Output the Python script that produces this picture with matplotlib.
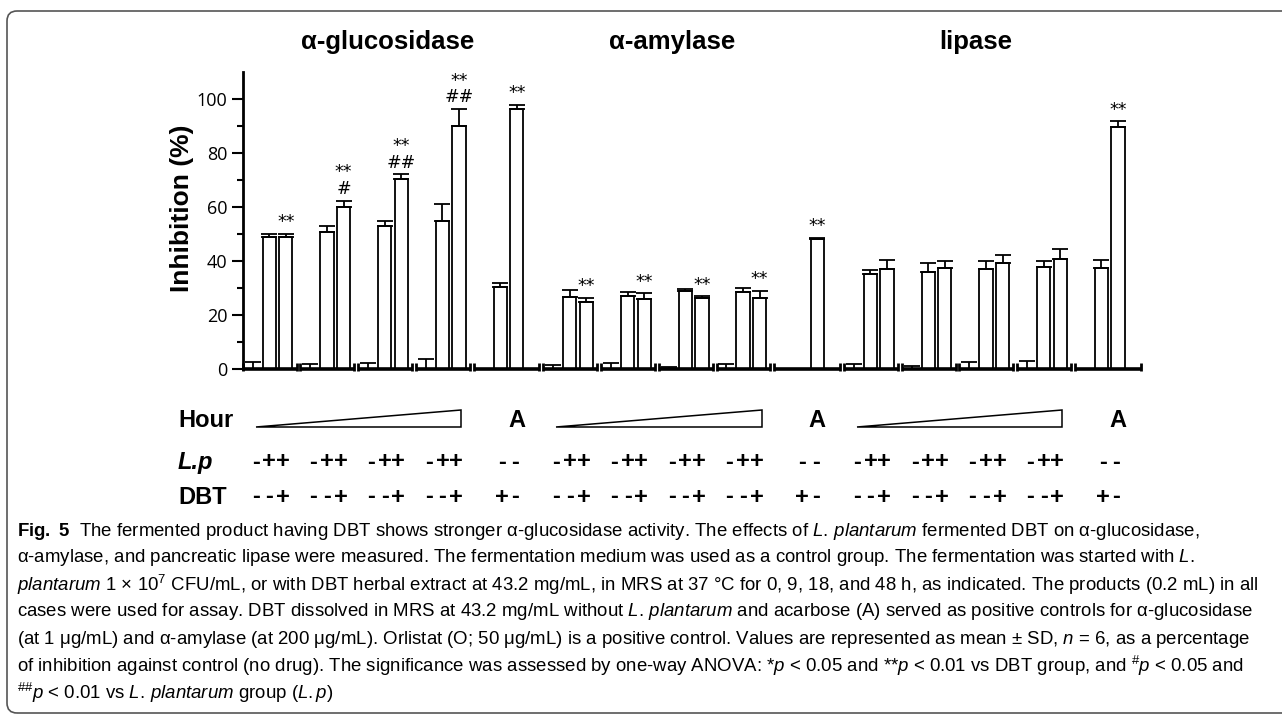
import numpy as np
import matplotlib.pyplot as plt
from matplotlib.patches import Polygon, FancyBboxPatch
from matplotlib.transforms import blended_transform_factory, IdentityTransform

# bar order inside each panel: 0h, 9h, 18h, 48h (medium, L.p, L.p+DBT) then DBT, A/O
panels = ['α-glucosidase', 'α-amylase', 'lipase']

gluco_mean = [0, 48.8, 49.0, 0, 50.9, 60.1, 0, 53.0, 70.2, 0, 54.8, 90.0, 30.3, 96.2]
gluco_err = [2.8, 1.2, 1.1, 1.8, 2.2, 2.2, 2.4, 1.8, 1.9, 3.7, 6.3, 6.2, 1.5, 1.5]
gluco_sig = ['', '', '**', '', '', '**\n#', '', '', '**\n##', '', '', '**\n##', '', '**']

amyl_mean = [0, 26.6, 25.0, 0, 27.1, 26.0, 0, 28.8, 26.2, 0, 28.7, 26.2, 0, 48.0]
amyl_err = [1.5, 2.7, 1.5, 2.3, 1.4, 2.1, 0.7, 0.7, 0.8, 2.1, 1.5, 2.9, 0.2, 0.7]
amyl_sig = ['', '', '**', '', '', '**', '', '', '**', '', '', '**', '', '**']

lip_mean = [0, 35.1, 37.2, 0, 35.8, 37.6, 0, 37.1, 39.2, 0, 37.9, 40.8, 37.4, 89.7]
lip_err = [2.1, 1.5, 3.2, 1.1, 3.6, 2.5, 2.6, 2.9, 3.0, 3.0, 2.1, 3.8, 3.0, 1.9]
lip_sig = ['', '', '', '', '', '', '', '', '', '', '', '', '', '**']

lp_signs = ['-++', '-++', '-++', '-++', '--']
dbt_signs = ['--+', '--+', '--+', '--+', '+-']

means = [gluco_mean, amyl_mean, lip_mean]
errs = [gluco_err, amyl_err, lip_err]
sigs = [gluco_sig, amyl_sig, lip_sig]

caption = [
    r'$\mathbf{Fig.}$ $\mathbf{5}$  The fermented product having DBT shows stronger α-glucosidase activity. The effects of $\mathit{L.\,plantarum}$ fermented DBT on α-glucosidase,',
    r'α-amylase, and pancreatic lipase were measured. The fermentation medium was used as a control group. The fermentation was started with $\mathit{L.}$',
    r'$\mathit{plantarum}$ 1 × 10$^{7}$ CFU/mL, or with DBT herbal extract at 43.2 mg/mL, in MRS at 37 °C for 0, 9, 18, and 48 h, as indicated. The products (0.2 mL) in all',
    r'cases were used for assay. DBT dissolved in MRS at 43.2 mg/mL without $\mathit{L.\,plantarum}$ and acarbose (A) served as positive controls for α-glucosidase',
    r'(at 1 μg/mL) and α-amylase (at 200 μg/mL). Orlistat (O; 50 μg/mL) is a positive control. Values are represented as mean ± SD, $\mathit{n}$ = 6, as a percentage',
    r'of inhibition against control (no drug). The significance was assessed by one-way ANOVA: *$\mathit{p}$ < 0.05 and **$\mathit{p}$ < 0.01 vs DBT group, and $^{\#}\mathit{p}$ < 0.05 and',
    r'$^{\#\#}\mathit{p}$ < 0.01 vs $\mathit{L.\,plantarum}$ group ($\mathit{L.p}$)',
]

plt.rcParams['mathtext.fontset'] = 'custom'
plt.rcParams['mathtext.rm'] = 'Liberation Sans'
plt.rcParams['mathtext.it'] = 'Liberation Sans:italic'
plt.rcParams['mathtext.bf'] = 'Liberation Sans:bold'

W, H = 1282, 715
fig = plt.figure(figsize=(W / 100, H / 100), dpi=100)
ax = fig.add_axes([242.7 / W, 1 - 369.3 / H, 898 / W, 297.6 / H])

# layout of the broken x axis (units of one bar pitch)
SEG_W, A_W, GAP = 3.25, 3.97, 0.23
x = 0
bar_x, seg_spans, panel_start = [], [], []
for p in range(3):
    panel_start.append(x)
    xs = []
    for g in range(4):
        xs += [x + o for o in (0.6, 1.6, 2.6)]
        seg_spans.append((x, x + SEG_W))
        x += SEG_W + GAP
    xs += [x + o for o in (1.6, 2.6)]
    seg_spans.append((x, x + A_W))
    x += A_W + GAP
    bar_x.append(xs)
xmax = x - GAP

for p in range(3):
    m = np.array(means[p])
    e = np.array(errs[p])
    ax.bar(bar_x[p], m, width=0.8, color='white', edgecolor='black', linewidth=1.3,
           yerr=[np.zeros_like(e), e], capsize=6,
           error_kw=dict(elinewidth=1.3, capthick=1.3, ecolor='black'), zorder=3)
    for xi, mi, ei, s in zip(bar_x[p], m, e, sigs[p]):
        if s:
            ax.text(xi, mi + ei + 1.0, s, ha='center', va='bottom', fontsize=12.5,
                    family='DejaVu Sans', linespacing=0.9)

for s, e in seg_spans:
    ax.hlines(0, s, e, color='black', lw=2.6, clip_on=False, zorder=4)
    ax.vlines([s, e], -0.8, 2.4, color='black', lw=2, clip_on=False, zorder=4)

ax.set_xlim(0, xmax)
ax.set_ylim(0, 110)
ax.set_xticks([])
for side in ('top', 'right', 'bottom'):
    ax.spines[side].set_visible(False)
ax.spines['left'].set_linewidth(2)
ax.set_yticks(range(0, 101, 20))
ax.set_yticks(range(10, 100, 20), minor=True)
ax.tick_params(axis='y', which='major', direction='out', length=8, width=1.5, labelsize=13, pad=3)
ax.tick_params(axis='y', which='minor', direction='out', length=4.5, width=1.5)
for lab in ax.get_yticklabels():
    lab.set_family('Open Sans')

fig.text(182 / W, 1 - 208 / H, 'Inhibition (%)', rotation=90, ha='center', va='center',
         fontsize=19, fontweight='bold', family='Liberation Sans')

trans = blended_transform_factory(ax.transData, fig.transFigure)
title_off = [8.75, 7.74, 7.93]
for p in range(3):
    ax.text(panel_start[p] + title_off[p], 1 - 42 / H, panels[p], transform=trans,
            ha='center', va='center', fontsize=18.5, fontweight='bold', family='Liberation Sans')

# condition rows under the axis
y_hour, y_lp, y_dbt = 1 - 421 / H, 1 - 462 / H, 1 - 497 / H
for lab, yy, st in (('Hour', y_hour, 'normal'), ('L.p', y_lp, 'italic'), ('DBT', y_dbt, 'normal')):
    fig.text(178 / W, yy, lab, ha='left', va='center', fontsize=17, fontweight='bold',
             style=st, family='Liberation Sans')


def sign_row(c, signs, yy):
    n = len(signs)
    for k, ch in enumerate(signs):
        ax.text(c + (k - (n - 1) / 2) * 0.82, yy, ch, transform=trans, ha='center', va='center',
                fontsize=17, fontweight='bold', family='Liberation Sans')


for p in range(3):
    s0 = panel_start[p]
    x0 = s0 + 0.78
    x1 = s0 + 3 * (SEG_W + GAP) + SEG_W - 0.53
    wedge = Polygon([[x0, 1 - 427 / H], [x1, 1 - 427 / H], [x1, 1 - 410 / H]], closed=True,
                    facecolor='white', edgecolor='black', lw=1.1, transform=trans, clip_on=False)
    ax.add_patch(wedge)
    xs = bar_x[p]
    ax.text(xs[13], y_hour, 'A', transform=trans, ha='center', va='center', fontsize=17,
            fontweight='bold', family='Liberation Sans')
    centers = [xs[1], xs[4], xs[7], xs[10], (xs[12] + xs[13]) / 2]
    for c, lp, db in zip(centers, lp_signs, dbt_signs):
        sign_row(c, lp, y_lp)
        sign_row(c, db, y_dbt)

for i, line in enumerate(caption):
    fig.text(17 / W, 1 - (531 + 27 * i) / H, line, ha='left', va='center', fontsize=13.4,
             family='Liberation Sans')

frame = FancyBboxPatch((7, 2), 1400, 702, boxstyle='round,pad=0,rounding_size=10',
                       transform=IdentityTransform(), fill=False, edgecolor='#555555', lw=1.2)
fig.add_artist(frame)

plt.savefig('out.png', dpi=100)
